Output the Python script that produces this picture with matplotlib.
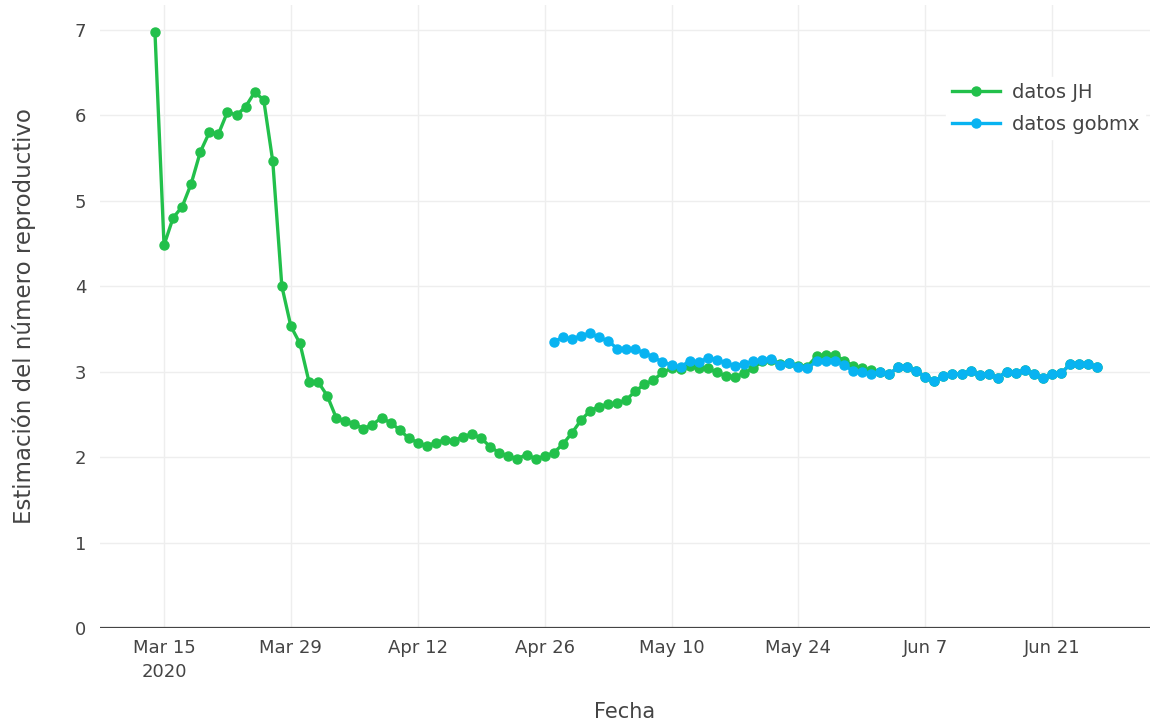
import numpy as np
import pandas as pd
import matplotlib
matplotlib.use("Agg")
from matplotlib import pyplot as plt
import matplotlib.dates as mdates

plt.rcParams['font.family'] = ['DejaVu Sans']

# datos JH: diario desde 14 de marzo de 2020
jh_start = "2020-03-14"
jh_values = [
    6.97, 4.48, 4.80, 4.93, 5.20, 5.57, 5.80, 5.78, 6.04, 6.00, 6.10, 6.27, 6.18, 5.46, 4.00,
    3.53, 3.33, 2.88,
    2.88, 2.72, 2.46, 2.42, 2.39, 2.33, 2.38, 2.46, 2.40, 2.32, 2.22, 2.17, 2.13, 2.17, 2.20,
    2.19, 2.24, 2.27, 2.22, 2.12, 2.05, 2.01, 1.98, 2.03, 1.98, 2.01, 2.05, 2.15, 2.28, 2.43,
    2.54, 2.59, 2.62, 2.63, 2.67, 2.77, 2.85, 2.90, 2.99, 3.04, 3.03, 3.07, 3.04, 3.04, 2.99,
    2.95, 2.94, 2.98, 3.04, 3.12, 3.14, 3.09, 3.10, 3.07, 3.06, 3.18, 3.20, 3.20, 3.13, 3.07,
    3.04,
    3.02, 3.00, 2.97, 3.05, 3.05, 3.01, 2.94, 2.89, 2.95, 2.97, 2.97, 3.01, 2.96, 2.97, 2.93,
    3.00, 2.98, 3.02, 2.97, 2.92, 2.97, 2.98, 3.09, 3.09, 3.09, 3.05,
]

# datos gobmx: diario desde 27 de abril de 2020
gob_start = "2020-04-27"
gob_values = [
    3.35, 3.40, 3.38, 3.42, 3.45, 3.40, 3.36, 3.27, 3.27, 3.26, 3.22, 3.17, 3.11, 3.08, 3.05,
    3.13, 3.11, 3.16, 3.14, 3.10, 3.07, 3.09, 3.12, 3.14, 3.15, 3.08, 3.10, 3.06, 3.04, 3.12,
    3.13, 3.13, 3.08, 3.01, 2.99, 2.97,
    3.00, 2.97, 3.05, 3.05, 3.01, 2.94, 2.89, 2.95, 2.97, 2.97, 3.01, 2.96, 2.97, 2.93,
    3.00, 2.98, 3.02, 2.97, 2.92, 2.97, 2.98, 3.09, 3.09, 3.09, 3.05,
]

tick_dates = ["2020-03-15", "2020-03-29", "2020-04-12", "2020-04-26",
              "2020-05-10", "2020-05-24", "2020-06-07", "2020-06-21"]
tick_labels = ["Mar 15\n2020", "Mar 29", "Apr 12", "Apr 26",
               "May 10", "May 24", "Jun 7", "Jun 21"]
y_ticks = [0, 1, 2, 3, 4, 5, 6, 7]

jh_dates = pd.date_range(jh_start, periods=len(jh_values), freq="D")
gob_dates = pd.date_range(gob_start, periods=len(gob_values), freq="D")

fig = plt.figure(figsize=(11.5, 7.21), dpi=100)
ax = fig.add_axes([0.087, 0.129, 0.913, 0.864])

green = '#22c04b'
blue = '#08b3f1'
ax.plot(jh_dates, jh_values, '-o', color=green, lw=2.4, ms=6.5, label='datos JH', zorder=3)
ax.plot(gob_dates, gob_values, '-o', color=blue, lw=2.4, ms=6.5, label='datos gobmx', zorder=4)

t0 = pd.Timestamp("2020-03-15")
ax.set_xlim(mdates.date2num(t0) - 7.06, mdates.date2num(t0) + 108.8)
ax.set_ylim(0, 7.29)

ax.set_xticks(pd.to_datetime(tick_dates))
ax.set_xticklabels(tick_labels, linespacing=1.45)
ax.set_yticks(y_ticks)

ax.grid(True, color='#eeeeee', lw=1)
ax.axhline(0, color='#444444', lw=1.6, zorder=2)
for s in ax.spines.values():
    s.set_visible(False)
ax.tick_params(length=0, colors='#444444', labelsize=13)
ax.tick_params(axis='x', pad=8)
ax.tick_params(axis='y', pad=10)

ax.set_xlabel('Fecha', fontsize=15, color='#444444', labelpad=15)
ax.set_ylabel('Estimación del número reproductivo', fontsize=16.5, color='#444444', labelpad=28)

leg = ax.legend(loc='upper left', bbox_to_anchor=(0.8226, 0.893), bbox_transform=fig.transFigure,
                frameon=True, fontsize=14, handlelength=2.5, handletextpad=0.6,
                labelspacing=0.65, borderpad=0.3, borderaxespad=0, labelcolor='#444444')
leg.get_frame().set_edgecolor('white')
leg.get_frame().set_alpha(1)
leg.get_frame().set_boxstyle('square', pad=0)

fig.savefig('out.png', dpi=100)
